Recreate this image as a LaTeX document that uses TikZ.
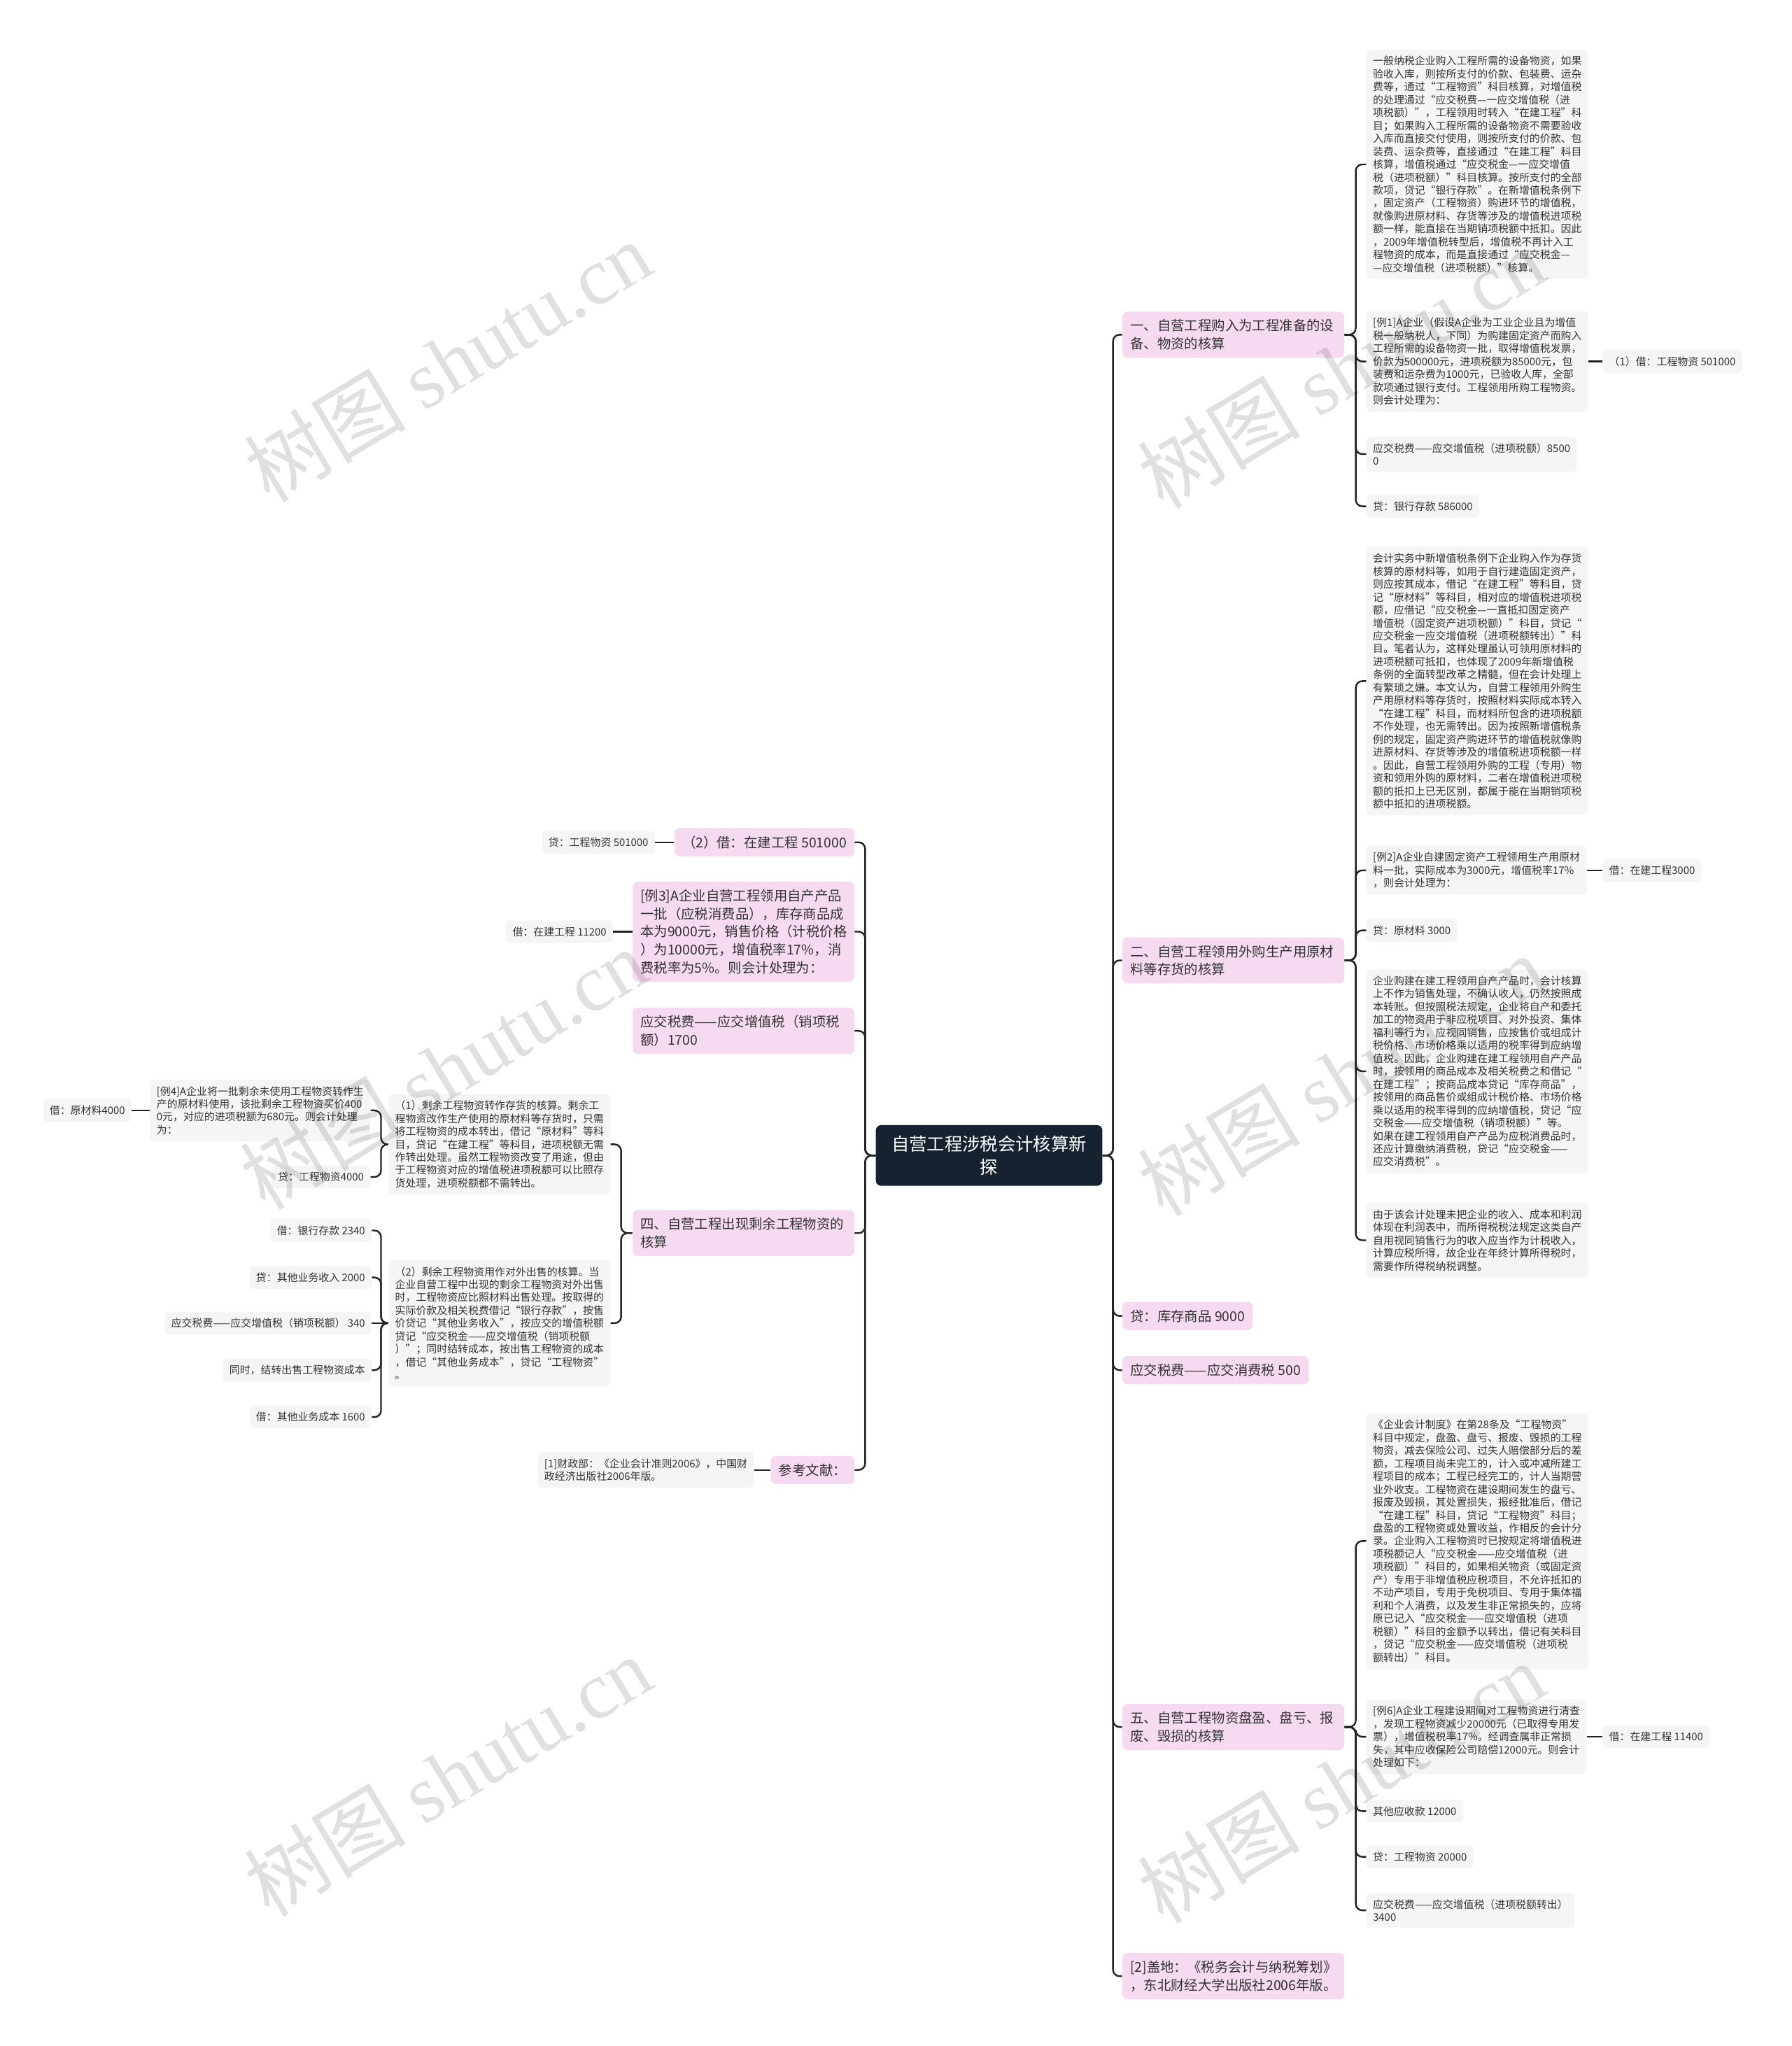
\documentclass[tikz,border=0pt]{standalone}
\usepackage{fontspec}
\setmainfont{Noto Sans CJK SC}
\newfontfamily\wmlatin{Liberation Serif}
\usetikzlibrary{positioning}

\definecolor{rootblue}{RGB}{23,34,48}
\definecolor{pinkfill}{RGB}{246,219,240}
\definecolor{leafgray}{RGB}{245,245,245}
\definecolor{inkgray}{RGB}{51,51,51}
\definecolor{linegray}{RGB}{35,35,35}

\tikzset{
  rootbox/.style={fill=rootblue, text=white, rounded corners=4pt, align=center,
    inner xsep=12pt, inner ysep=8pt, font=\fontsize{13.6}{18}\selectfont},
  mainbox/.style={fill=pinkfill, text=inkgray, rounded corners=4pt, align=left,
    inner xsep=6pt, inner ysep=6pt, font=\fontsize{10.4}{13.7}\selectfont},
  widebox/.style={mainbox, text width=158pt},
  leafbox/.style={fill=leafgray, text=inkgray, rounded corners=3pt, align=left,
    inner xsep=5pt, inner ysep=5pt, font=\fontsize{8}{9.9}\selectfont},
  link/.style={draw=linegray, line width=1.3pt, rounded corners=5pt},
  watermark/.style={text=black, opacity=0.12, rotate=31,
    font=\fontsize{62}{62}\selectfont}
}

\begin{document}
\begin{tikzpicture}[x=1pt, y=-1pt]
    % Page area
    \fill[white] (0,0) rectangle (1373,1568);
    \useasboundingbox (0,0) rectangle (1373,1568);

    % Root of the map
    \node[rootbox] (root) at (758,885.5) {自营工程涉税会计核算新\\探};

    % Right side: main branches
    \node[widebox, anchor=west] (yi) at (860,256.5) {一、自营工程购入为工程准备的设\\备、物资的核算};
    \node[widebox, anchor=west] (er) at (860,736) {二、自营工程领用外购生产用原材\\料等存货的核算};
    \node[mainbox, anchor=west] (kucun) at (860,1008.5) {贷：库存商品 9000};
    \node[mainbox, anchor=west] (xiaofei) at (860,1050) {应交税费——应交消费税 500};
    \node[widebox, anchor=west] (wu) at (860,1323.5) {五、自营工程物资盘盈、盘亏、报\\废、毁损的核算};
    \node[widebox, anchor=west] (gaidi) at (860,1514.5) {[2]盖地：《税务会计与纳税筹划》\\，东北财经大学出版社2006年版。};

    % Branch one: details
    \node[leafbox, anchor=west] (yiText) at (1047,126) {一般纳税企业购入工程所需的设备物资，如果\\验收入库，则按所支付的价款、包装费、运杂\\费等，通过“工程物资”科目核算，对增值税\\的处理通过“应交税费—一应交增值税（进\\项税额）”，工程领用时转入“在建工程”科\\目；如果购入工程所需的设备物资不需要验收\\入库而直接交付使用，则按所支付的价款、包\\装费、运杂费等，直接通过“在建工程”科目\\核算，增值税通过“应交税金—一应交增值\\税（进项税额）”科目核算。按所支付的全部\\款项，贷记“银行存款”。在新增值税条例下\\，固定资产（工程物资）购进环节的增值税，\\就像购进原材料、存货等涉及的增值税进项税\\额一样，能直接在当期销项税额中抵扣。因此\\，2009年增值税转型后，增值税不再计入工\\程物资的成本，而是直接通过“应交税金—\\—应交增值税（进项税额）”核算。};
    \node[leafbox, anchor=west] (li1) at (1047,277) {[例1]A企业（假设A企业为工业企业且为增值\\税一般纳税人，下同）为购建固定资产而购入\\工程所需的设备物资一批，取得增值税发票，\\价款为500000元，进项税额为85000元，包\\装费和运杂费为1000元，已验收人库，全部\\款项通过银行支付。工程领用所购工程物资。\\则会计处理为：};
    \node[leafbox, anchor=west] (li1Debit) at (1228,277) {（1）借：工程物资 501000};
    \node[leafbox, anchor=west] (jinxiang) at (1047,348) {应交税费——应交增值税（进项税额）8500\\0};
    \node[leafbox, anchor=west] (yinhang) at (1047,388) {贷：银行存款 586000};

    % Branch two: details
    \node[leafbox, anchor=west] (erText) at (1047,522) {会计实务中新增值税条例下企业购入作为存货\\核算的原材料等，如用于自行建造固定资产，\\则应按其成本，借记“在建工程”等科目，贷\\记“原材料”等科目，相对应的增值税进项税\\额，应借记“应交税金—一直抵扣固定资产\\增值税（固定资产进项税额）”科目，贷记“\\应交税金一应交增值税（进项税额转出）”科\\目。笔者认为，这样处理虽认可领用原材料的\\进项税额可抵扣，也体现了2009年新增值税\\条例的全面转型改革之精髓，但在会计处理上\\有繁琐之嫌。本文认为，自营工程领用外购生\\产用原材料等存货时，按照材料实际成本转入\\“在建工程”科目，而材料所包含的进项税额\\不作处理，也无需转出。因为按照新增值税条\\例的规定，固定资产购进环节的增值税就像购\\进原材料、存货等涉及的增值税进项税额一样\\。因此，自营工程领用外购的工程（专用）物\\资和领用外购的原材料，二者在增值税进项税\\额的抵扣上已无区别，都属于能在当期销项税\\额中抵扣的进项税额。};
    \node[leafbox, anchor=west] (li2) at (1047,667) {[例2]A企业自建固定资产工程领用生产用原材\\料一批，实际成本为3000元，增值税率17\%\\，则会计处理为：};
    \node[leafbox, anchor=west] (li2Debit) at (1228,667) {借：在建工程3000};
    \node[leafbox, anchor=west] (yuancai) at (1047,713) {贷：原材料 3000};
    \node[leafbox, anchor=west] (zichan) at (1047,821) {企业购建在建工程领用自产产品时，会计核算\\上不作为销售处理，不确认收人，仍然按照成\\本转账。但按照税法规定，企业将自产和委托\\加工的物资用于非应税项目、对外投资、集体\\福利等行为，应视同销售，应按售价或组成计\\税价格、市场价格乘以适用的税率得到应纳增\\值税。因此，企业购建在建工程领用自产产品\\时，按领用的商品成本及相关税费之和借记“\\在建工程”；按商品成本贷记“库存商品”，\\按领用的商品售价或组成计税价格、市场价格\\乘以适用的税率得到的应纳增值税，贷记“应\\交税金——应交增值税（销项税额）”等。\\如果在建工程领用自产产品为应税消费品时，\\还应计算缴纳消费税，贷记“应交税金——\\应交消费税”。};
    \node[leafbox, anchor=west] (suodeshui) at (1047,950.5) {由于该会计处理未把企业的收入、成本和利润\\体现在利润表中，而所得税税法规定这类自产\\自用视同销售行为的收入应当作为计税收入，\\计算应税所得，故企业在年终计算所得税时，\\需要作所得税纳税调整。};

    % Branch five: details
    \node[leafbox, anchor=west] (wuText) at (1047,1181) {《企业会计制度》在第28条及“工程物资”\\科目中规定，盘盈、盘亏、报废、毁损的工程\\物资，减去保险公司、过失人赔偿部分后的差\\额，工程项目尚未完工的，计入或冲减所建工\\程项目的成本；工程已经完工的，计人当期营\\业外收支。工程物资在建设期间发生的盘亏、\\报废及毁损，其处置损失，报经批准后，借记\\“在建工程”科目，贷记“工程物资”科目；\\盘盈的工程物资或处置收益，作相反的会计分\\录。企业购入工程物资时已按规定将增值税进\\项税额记人“应交税金——应交增值税（进\\项税额）”科目的，如果相关物资（或固定资\\产）专用于非增值税应税项目，不允许抵扣的\\不动产项目，专用于免税项目、专用于集体福\\利和个人消费，以及发生非正常损失的，应将\\原已记入“应交税金——应交增值税（进项\\税额）”科目的金额予以转出，借记有关科目\\，贷记“应交税金——应交增值税（进项税\\额转出）”科目。};
    \node[leafbox, anchor=west] (li6) at (1047,1331) {[例6]A企业工程建设期间对工程物资进行清查\\，发现工程物资减少20000元（已取得专用发\\票），增值税税率17\%。经调查属非正常损\\失，其中应收保险公司赔偿12000元。则会计\\处理如下：};
    \node[leafbox, anchor=west] (li6Debit) at (1228,1331) {借：在建工程 11400};
    \node[leafbox, anchor=west] (yingshou) at (1047,1388) {其他应收款 12000};
    \node[leafbox, anchor=west] (wuzi) at (1047,1423) {贷：工程物资 20000};
    \node[leafbox, anchor=west] (zhuanchu) at (1047,1464) {应交税费——应交增值税（进项税额转出）\\3400};

    % Left side: main branches
    \node[mainbox, anchor=east] (zaijian) at (655,645.5) {（2）借：在建工程 501000};
    \node[widebox, anchor=east] (li3) at (655,714) {[例3]A企业自营工程领用自产产品\\一批（应税消费品），库存商品成\\本为9000元，销售价格（计税价格\\）为10000元，增值税率17\%，消\\费税率为5\%。则会计处理为：};
    \node[widebox, anchor=east] (xiaoxiang) at (655,790) {应交税费——应交增值税（销项税\\额）1700};
    \node[widebox, anchor=east] (si) at (655,945) {四、自营工程出现剩余工程物资的\\核算};
    \node[mainbox, anchor=east] (cankao) at (655,1126.5) {参考文献：};

    % Left side: leaves
    \node[leafbox, anchor=east] (zaijianCredit) at (502,645.5) {贷：工程物资 501000};
    \node[leafbox, anchor=east] (li3Debit) at (470,714) {借：在建工程 11200};
    \node[leafbox, anchor=east] (caizheng) at (578,1126.5) {[1]财政部：《企业会计准则2006》，中国财\\政经济出版社2006年版。};

    % Branch four: details
    \node[leafbox, anchor=east] (siOne) at (468,877) {（1）剩余工程物资转作存货的核算。剩余工\\程物资改作生产使用的原材料等存货时，只需\\将工程物资的成本转出，借记“原材料”等科\\目，贷记“在建工程”等科目，进项税额无需\\作转出处理。虽然工程物资改变了用途，但由\\于工程物资对应的增值税进项税额可以比照存\\货处理，进项税额都不需转出。};
    \node[leafbox, anchor=east] (siTwo) at (468,1014) {（2）剩余工程物资用作对外出售的核算。当\\企业自营工程中出现的剩余工程物资对外出售\\时，工程物资应比照材料出售处理。按取得的\\实际价款及相关税费借记“银行存款”，按售\\价贷记“其他业务收入”，按应交的增值税额\\贷记“应交税金——应交增值税（销项税额\\）”；同时结转成本，按出售工程物资的成本\\，借记“其他业务成本”，贷记“工程物资”\\。};
    \node[leafbox, anchor=east] (li4) at (284,851) {[例4]A企业将一批剩余未使用工程物资转作生\\产的原材料使用，该批剩余工程物资买价400\\0元，对应的进项税额为680元。则会计处理\\为：};
    \node[leafbox, anchor=east] (li4Debit) at (101,851) {借：原材料4000};
    \node[leafbox, anchor=east] (li4Credit) at (284,902) {贷：工程物资4000};
    \node[leafbox, anchor=east] (cunkuan) at (285,943) {借：银行存款 2340};
    \node[leafbox, anchor=east] (shouru) at (285,979) {贷：其他业务收入 2000};
    \node[leafbox, anchor=east] (xiaoxiang340) at (285,1014) {应交税费——应交增值税（销项税额） 340};
    \node[leafbox, anchor=east] (jiezhuan) at (285,1050) {同时，结转出售工程物资成本};
    \node[leafbox, anchor=east] (chengben) at (285,1086) {借：其他业务成本 1600};

    % Spine points
    \coordinate (rSpine) at (853,885.5);
    \coordinate (lSpine) at (663,885.5);
    \coordinate (yiSpine) at (1039,256.5);
    \coordinate (erSpine) at (1039,736);
    \coordinate (wuSpine) at (1039,1323.5);
    \coordinate (siSpine) at (476,945);
    \coordinate (oneSpine) at (292,877);
    \coordinate (twoSpine) at (292,1014);

    % Connectors
    \foreach \n in {yi,er,kucun,xiaofei,wu,gaidi}
        \draw[link] (root.east) -- (rSpine) |- (\n.west);
    \foreach \n in {zaijian,li3,xiaoxiang,si,cankao}
        \draw[link] (root.west) -- (lSpine) |- (\n.east);
    \foreach \n in {yiText,li1,jinxiang,yinhang}
        \draw[link] (yi.east) -- (yiSpine) |- (\n.west);
    \foreach \n in {erText,li2,yuancai,zichan,suodeshui}
        \draw[link] (er.east) -- (erSpine) |- (\n.west);
    \foreach \n in {wuText,li6,yingshou,wuzi,zhuanchu}
        \draw[link] (wu.east) -- (wuSpine) |- (\n.west);
    \foreach \n in {siOne,siTwo}
        \draw[link] (si.west) -- (siSpine) |- (\n.east);
    \foreach \n in {li4,li4Credit}
        \draw[link] (siOne.west) -- (oneSpine) |- (\n.east);
    \foreach \n in {cunkuan,shouru,jiezhuan,chengben}
        \draw[link] (siTwo.west) -- (twoSpine) |- (\n.east);
    \draw[link] (siTwo.west) -- (xiaoxiang340.east);
    \draw[link] (li1.east) -- (li1Debit.west);
    \draw[link] (li2.east) -- (li2Debit.west);
    \draw[link] (li6.east) -- (li6Debit.west);
    \draw[link] (zaijian.west) -- (zaijianCredit.east);
    \draw[link] (li3.west) -- (li3Debit.east);
    \draw[link] (cankao.west) -- (caizheng.east);
    \draw[link] (li4.west) -- (li4Debit.east);

    % Watermarks
    \foreach \wx/\wy in {343/277, 1028/282, 340/819, 1028/824, 343/1361, 1028/1366}
        \node[watermark] at (\wx,\wy) {树图 {\wmlatin shutu.cn}};
\end{tikzpicture}
\end{document}
